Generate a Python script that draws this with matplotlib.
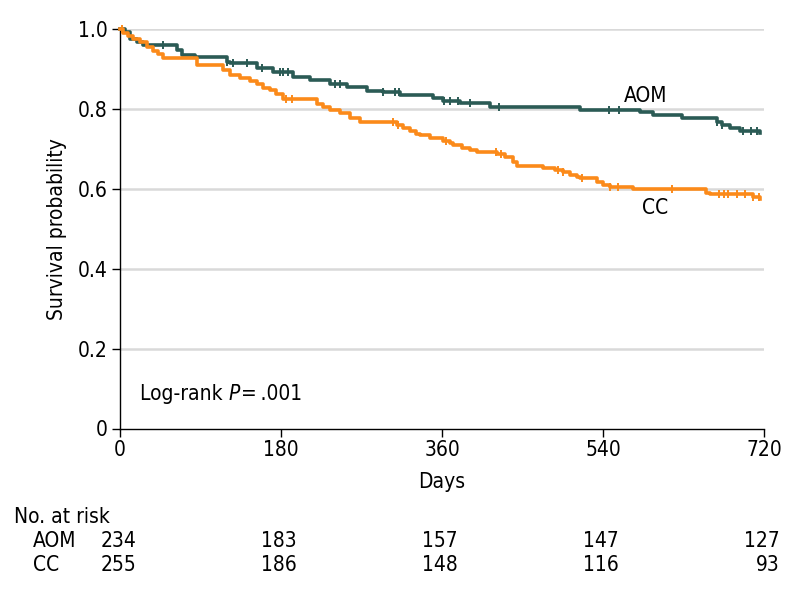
import matplotlib
matplotlib.use("Agg")
import matplotlib.pyplot as plt
import matplotlib.transforms as mtransforms
import numpy as np

plt.rcParams['font.family'] = ['DejaVu Sans']
plt.rcParams['font.stretch'] = 'condensed'

# ---- data ----
aom_days = [0, 5.6, 11, 19, 26, 64, 69, 84, 120, 123, 153, 171, 193, 212, 235, 254, 276, 294,
            313, 350, 361, 380, 414, 514, 581, 596, 628, 667, 673, 682, 693, 716]
aom_surv = [1.0, 0.992, 0.976, 0.967, 0.960, 0.947, 0.934, 0.930, 0.917, 0.915, 0.902, 0.892,
            0.880, 0.872, 0.862, 0.855, 0.845, 0.842, 0.835, 0.827, 0.820, 0.815, 0.805, 0.797,
            0.792, 0.785, 0.777, 0.767, 0.760, 0.752, 0.745, 0.740]
aom_censor = [48, 120, 126, 142, 159, 179, 182, 188, 240, 246, 294, 307, 312, 362, 369, 378,
              391, 424, 547, 558, 668, 673, 696, 705, 712]

cc_days = [0, 3, 9, 15, 22, 30, 37, 42, 48, 86, 115, 123, 134, 145, 153, 160, 168, 174, 182,
           220, 227, 235, 246, 257, 268, 310, 316, 324, 331, 335, 347, 361, 369, 372, 382, 391,
           399, 421, 430, 439, 444, 473, 486, 495, 503, 511, 514, 533, 540, 548, 574, 655, 660,
           708, 716]
cc_surv = [1.0, 0.990, 0.983, 0.975, 0.967, 0.955, 0.945, 0.937, 0.927, 0.910, 0.898, 0.885,
           0.877, 0.870, 0.862, 0.852, 0.847, 0.837, 0.825, 0.812, 0.805, 0.797, 0.790, 0.777,
           0.767, 0.760, 0.752, 0.745, 0.737, 0.735, 0.727, 0.720, 0.715, 0.710, 0.702, 0.697,
           0.692, 0.687, 0.680, 0.667, 0.657, 0.652, 0.647, 0.642, 0.635, 0.630, 0.627, 0.617,
           0.610, 0.605, 0.600, 0.590, 0.587, 0.580, 0.575]
cc_censor = [2, 186, 192, 305, 311, 365, 420, 426, 490, 495, 516, 548, 557, 617, 670, 675,
             680, 690, 699, 708, 714]

xticks = [0, 180, 360, 540, 720]
yticks = [0, 0.2, 0.4, 0.6, 0.8, 1.0]
ytick_labels = ['0', '0.2', '0.4', '0.6', '0.8', '1.0']
risk_groups = ['AOM', 'CC']
risk_aom = [234, 183, 157, 147, 127]
risk_cc = [255, 186, 148, 116, 93]

aom_color = '#2b5b55'
cc_color = '#fb8a1a'
FS = 15

# ---- figure ----
fig = plt.figure(figsize=(7.94, 5.95), dpi=100)
ax = fig.add_axes([120/794, 1 - 428.5/595, (764-120)/794, (428.5-29)/595])

for days, surv, cens, col, z in [(aom_days, aom_surv, aom_censor, aom_color, 3),
                                 (cc_days, cc_surv, cc_censor, cc_color, 4)]:
    d = np.asarray(days, float)
    s = np.asarray(surv, float)
    ax.step(d, s, where='post', color=col, lw=2.6, zorder=z, clip_on=False)
    idx = np.searchsorted(d, cens, side='right') - 1
    ax.plot(cens, s[idx], ls='none', marker='|', ms=6, mew=1.4, color=col, zorder=z,
            clip_on=False)

ax.set_xlim(0, 720)
ax.set_ylim(0, 1.0)
ax.set_xticks(xticks)
ax.set_xticklabels([str(t) for t in xticks])
ax.set_yticks(yticks)
ax.set_yticklabels(ytick_labels)
for y in yticks[1:]:
    ax.axhline(y, color='#d9d9d9', lw=1.8, zorder=1)

for sp in ['top', 'right']:
    ax.spines[sp].set_visible(False)
for sp in ['left', 'bottom']:
    ax.spines[sp].set_linewidth(1.0)
    ax.spines[sp].set_color('black')
ax.tick_params(axis='both', direction='out', length=6, width=1.0, labelsize=FS, colors='black')
ax.tick_params(axis='x', pad=2)
ax.tick_params(axis='y', pad=3)

ax.set_ylabel('Survival probability', fontsize=FS, labelpad=8)
ax.set_xlabel('Days', fontsize=FS, labelpad=9)

ax.text(588, 0.832, 'AOM', fontsize=FS, ha='center', va='center')
ax.text(598, 0.552, 'CC', fontsize=FS, ha='center', va='center')

# Log-rank annotation built from pieces (italic P)
t1 = ax.text(22, 0.086, 'Log-rank ', fontsize=FS, ha='left', va='center')
fig.canvas.draw()
bb = t1.get_window_extent()
t2 = ax.annotate('P', xy=(22, 0.086), xycoords='data', xytext=(bb.width, 0),
                 textcoords='offset pixels', fontsize=FS, ha='left', va='center',
                 fontstyle='italic')
fig.canvas.draw()
bb2 = t2.get_window_extent()
ax.annotate('=\u2009.001', xy=(22, 0.086), xycoords='data', xytext=(bb.width + bb2.width + 1, 0),
            textcoords='offset pixels', fontsize=FS, ha='left', va='center')

# ---- number at risk table ----
fig.text(14/794, 1 - 517/595, 'No. at risk', fontsize=FS, ha='left', va='center')
trans = mtransforms.blended_transform_factory(ax.transData, fig.transFigure)
trans_r = mtransforms.offset_copy(trans, fig=fig, x=16, y=0, units='dots')
for name, vals, ypix in [('AOM', risk_aom, 541), ('CC', risk_cc, 565)]:
    yf = 1 - ypix / 595
    fig.text(33/794, yf, name, fontsize=FS, ha='left', va='center')
    for t, v in zip(xticks, vals):
        ax.text(t, yf, str(v), fontsize=FS, ha='right', va='center', transform=trans_r,
                clip_on=False)

fig.savefig('out.png', dpi=100)
